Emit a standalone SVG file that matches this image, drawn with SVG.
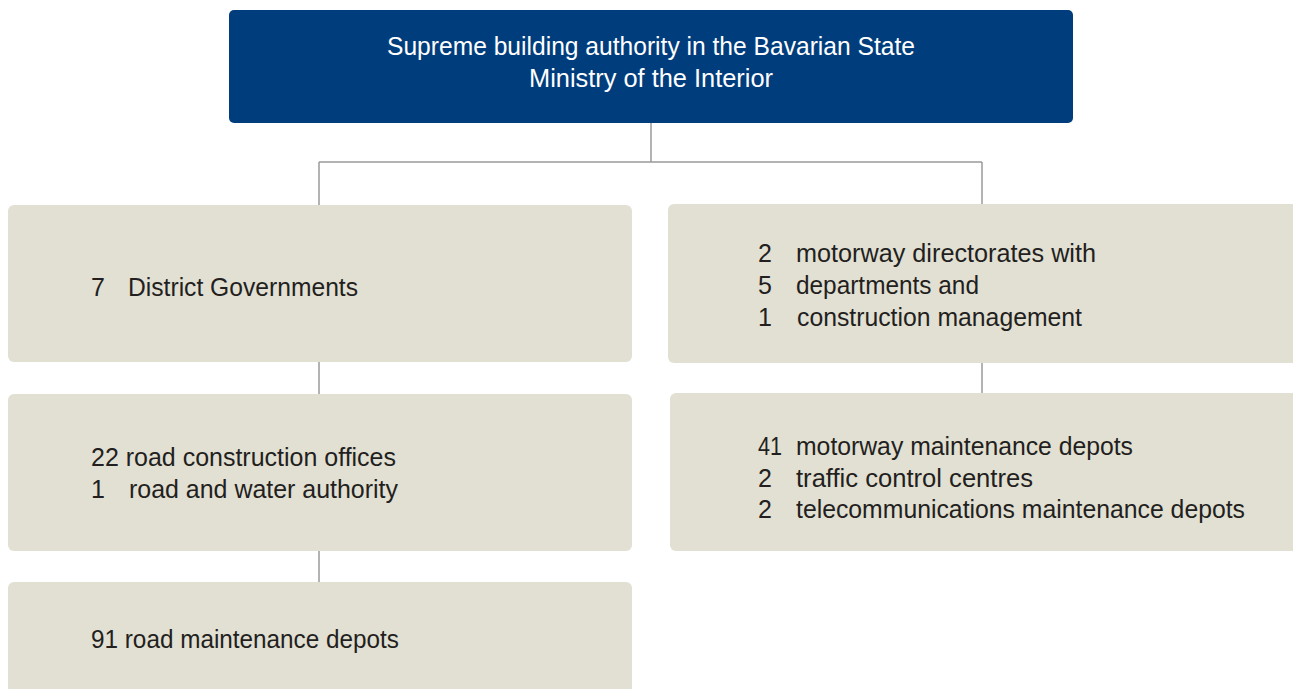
<svg xmlns="http://www.w3.org/2000/svg" width="1293" height="689" viewBox="0 0 1293 689">
<style>
.box{fill:#e2dfd3}
.top{fill:#003d7c}
.t{font-family:"Liberation Sans Narrow","Liberation Sans",Arial,sans-serif;font-size:25px;fill:#231f20}
.w{fill:#ffffff;text-anchor:middle}
.c{stroke:#9a9a9a;stroke-width:1.5;fill:none}
</style>
<rect width="1293" height="689" fill="#ffffff"/>
<g id="connectors">
<path class="c" d="M651 123V162M319 162H982M319 162V205M982 162V204"/>
<path class="c" d="M319 362V394M319 551V582M982 363V393"/>
</g>
<g id="ministry">
<rect class="top" x="229" y="10" width="844" height="113" rx="5"/>
<text class="t w" x="651" y="55" textLength="528" lengthAdjust="spacingAndGlyphs">Supreme building authority in the Bavarian State</text>
<text class="t w" x="651" y="87" textLength="244" lengthAdjust="spacingAndGlyphs">Ministry of the Interior</text>
</g>
<g id="district">
<rect class="box" x="8" y="205" width="624" height="157" rx="6"/>
<text class="t" x="91" y="296">7</text>
<text class="t" x="128" y="296" textLength="230" lengthAdjust="spacingAndGlyphs">District Governments</text>
</g>
<g id="motorway-directorates">
<rect class="box" x="668" y="204" width="631" height="159" rx="6"/>
<text class="t" x="758" y="262">2</text>
<text class="t" x="796" y="262" textLength="300" lengthAdjust="spacingAndGlyphs">motorway directorates with</text>
<text class="t" x="758" y="294">5</text>
<text class="t" x="796" y="294" textLength="183" lengthAdjust="spacingAndGlyphs">departments and</text>
<text class="t" x="758" y="326">1</text>
<text class="t" x="797" y="326" textLength="285" lengthAdjust="spacingAndGlyphs">construction management</text>
</g>
<g id="road-offices">
<rect class="box" x="8" y="394" width="624" height="157" rx="6"/>
<text class="t" x="91" y="466" textLength="305" lengthAdjust="spacingAndGlyphs">22 road construction offices</text>
<text class="t" x="91" y="498">1</text>
<text class="t" x="129" y="498" textLength="269" lengthAdjust="spacingAndGlyphs">road and water authority</text>
</g>
<g id="motorway-depots">
<rect class="box" x="670" y="393" width="629" height="158" rx="6"/>
<text class="t" x="758" y="455" textLength="24" lengthAdjust="spacingAndGlyphs">41</text>
<text class="t" x="796" y="455" textLength="337" lengthAdjust="spacingAndGlyphs">motorway maintenance depots</text>
<text class="t" x="758" y="487">2</text>
<text class="t" x="796" y="487" textLength="237" lengthAdjust="spacingAndGlyphs">traffic control centres</text>
<text class="t" x="758" y="518">2</text>
<text class="t" x="796" y="518" textLength="449" lengthAdjust="spacingAndGlyphs">telecommunications maintenance depots</text>
</g>
<g id="road-depots">
<rect class="box" x="8" y="582" width="624" height="120" rx="6"/>
<text class="t" x="91" y="648" textLength="308" lengthAdjust="spacingAndGlyphs">91 road maintenance depots</text>
</g>
</svg>
